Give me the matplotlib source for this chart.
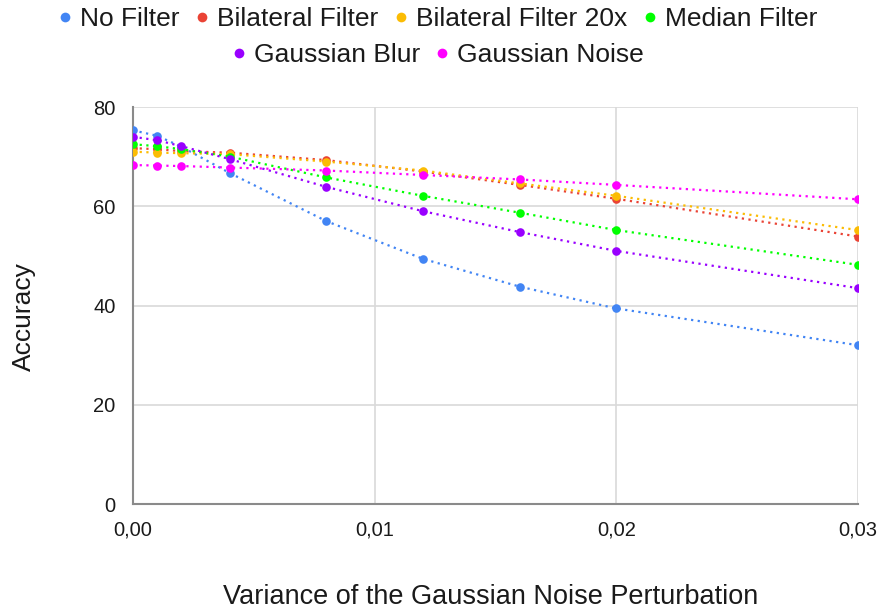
import matplotlib
matplotlib.use("Agg")
import matplotlib.pyplot as plt
from matplotlib.ticker import FuncFormatter
from matplotlib.lines import Line2D

plt.rcParams['font.family'] = ['Liberation Sans', 'DejaVu Sans']

variance = [0.0, 0.001, 0.002, 0.004, 0.008, 0.012, 0.016, 0.02, 0.03]
series_names = ["No Filter", "Bilateral Filter", "Bilateral Filter 20x",
                "Median Filter", "Gaussian Blur", "Gaussian Noise"]
no_filter = [75.3, 74.2, 72.0, 66.7, 57.0, 49.4, 43.8, 39.4, 32.0]
bilateral = [71.7, 71.5, 71.1, 70.8, 69.3, 67.0, 64.3, 61.5, 53.9]
bilateral_20x = [71.0, 70.8, 70.7, 70.5, 69.0, 67.2, 64.6, 62.1, 55.2]
median = [72.5, 72.1, 71.5, 70.0, 65.8, 62.1, 58.7, 55.2, 48.2]
gaussian_blur = [74.0, 73.3, 72.1, 69.5, 63.9, 59.0, 54.8, 51.0, 43.5]
gaussian_noise = [68.3, 68.2, 68.1, 67.8, 67.2, 66.3, 65.4, 64.3, 61.4]
x_ticks = [0.0, 0.01, 0.02, 0.03]
y_ticks = [0, 20, 40, 60, 80]

colors = ["#4285F4", "#EA4335", "#FBBC04", "#00FF00", "#9900FF", "#FF00FF"]
all_series = [no_filter, bilateral, bilateral_20x, median, gaussian_blur, gaussian_noise]

W, H = 882, 614
fig = plt.figure(figsize=(W/100, H/100), dpi=100)
ax = fig.add_axes([133/W, 1-504/H, (858-133)/W, (504-107)/H])

for vals, c, name in zip(all_series, colors, series_names):
    ax.plot(variance, vals, linestyle=(0, (1, 2)), linewidth=1.6, color=c,
            marker='o', markersize=6.2, markeredgewidth=0, label=name, zorder=3)

ax.set_xlim(0, 0.03)
ax.set_ylim(0, 80)
ax.set_xticks(x_ticks)
ax.set_yticks(y_ticks)
ax.xaxis.set_major_formatter(FuncFormatter(lambda v, p: f"{v:.2f}".replace('.', ',')))
ax.grid(True, color="#D9D9D9", linewidth=1.2, zorder=0)
for s in ['top', 'right']:
    ax.spines[s].set_visible(False)
for s in ['left', 'bottom']:
    ax.spines[s].set_color("#8A8A8A")
    ax.spines[s].set_linewidth(1.5)
ax.tick_params(axis='both', length=0, labelsize=14.5, colors="#1a1a1a")
ax.tick_params(axis='y', pad=12.5)
ax.tick_params(axis='x', pad=12)

fig.text(24/W, 1-317/H, "Accuracy", rotation=90, fontsize=19, color="#1a1a1a",
         ha='center', va='center')
fig.text(491/W, 1-597/H, "Variance of the Gaussian Noise Perturbation", fontsize=19.5,
         color="#1a1a1a", ha='center', va='center')

handles = [Line2D([0], [0], linestyle='none', marker='o', markersize=7,
                  markeredgewidth=0, color=c) for c in colors]
leg_kw = dict(frameon=False, fontsize=19, handletextpad=0.17, columnspacing=0.45,
              handlelength=0.8, labelcolor="#1a1a1a", borderpad=0, borderaxespad=0)
fig.legend(handles[:4], series_names[:4], loc='center', bbox_to_anchor=(436/W, 1-19/H),
           ncol=4, **leg_kw)
fig.legend(handles[4:], series_names[4:], loc='center', bbox_to_anchor=(436/W, 1-55/H),
           ncol=2, **leg_kw)

fig.savefig("out.png", dpi=100)
